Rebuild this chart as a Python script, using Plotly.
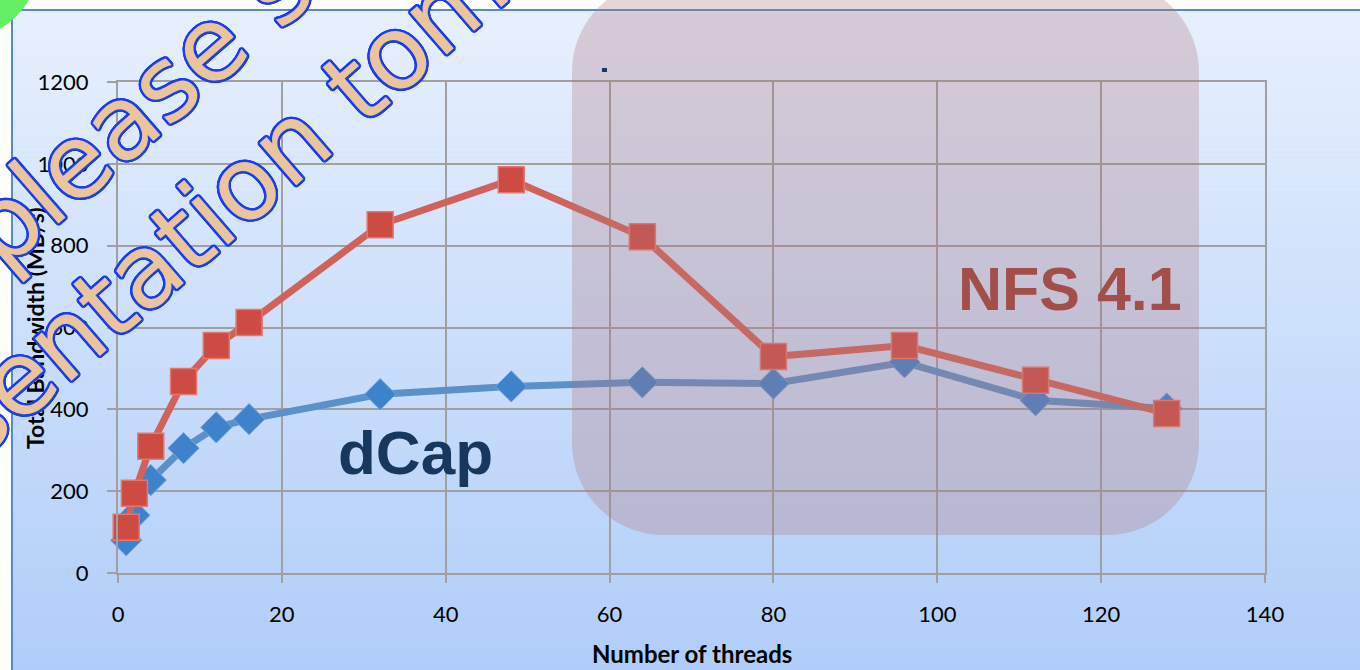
import math
import plotly.graph_objects as go

# ---------------- data ----------------
threads = [1, 2, 4, 8, 12, 16, 32, 48, 64, 80, 96, 112, 128]
dcap = [80, 141, 227, 305, 356, 376, 437, 456, 466, 463, 515, 422, 402]
nfs = [112, 195, 310, 468, 556, 612, 851, 961, 822, 529, 556, 471, 390]
x_ticks = [0, 20, 40, 60, 80, 100, 120, 140]
y_ticks = [0, 200, 400, 600, 800, 1000, 1200]

W, H = 1360, 670
L, R, T, B = 118, 1265, 82, 573
PW, PH = R - L, B - T


def px(x):
    return (x - L) / PW


def py(y):
    return (B - y) / PH


fig = go.Figure()

fig.add_trace(go.Scatter(
    x=threads, y=dcap, mode="lines+markers", name="dCap",
    line=dict(color="#5B90C9", width=7),
    marker=dict(symbol="diamond", size=24, color="#3E82CC",
                line=dict(color="#6FA3DA", width=1)),
    cliponaxis=False,
))
fig.add_trace(go.Scatter(
    x=threads, y=nfs, mode="lines+markers", name="NFS 4.1",
    line=dict(color="#D0625A", width=7),
    marker=dict(symbol="square", size=26, color="#CD4B42",
                line=dict(color="#E2796F", width=1.5)),
    cliponaxis=False,
))

shapes = []
# slide gradient background
top_c = (231, 240, 253)
bot_c = (176, 205, 249)
y0, y1 = 9, 670
n = 132
for i in range(n):
    ya = y0 + (y1 - y0) * i / n
    yb = y0 + (y1 - y0) * (i + 1) / n
    t = (i + 0.5) / n
    c = tuple(round(top_c[k] + (bot_c[k] - top_c[k]) * t) for k in range(3))
    shapes.append(dict(type="rect", xref="paper", yref="paper", layer="below",
                       x0=px(12), x1=px(1362), y0=py(ya), y1=py(yb + 0.6),
                       line=dict(width=0), fillcolor="rgb(%d,%d,%d)" % c))
# slide border
shapes.append(dict(type="line", xref="paper", yref="paper", layer="below",
                   x0=px(12), x1=px(1362), y0=py(10), y1=py(10),
                   line=dict(color="#5A8AC6", width=2)))
shapes.append(dict(type="line", xref="paper", yref="paper", layer="below",
                   x0=px(12), x1=px(12), y0=py(9), y1=py(672),
                   line=dict(color="#5A8AC6", width=2)))
# green circle corner
shapes.append(dict(type="circle", xref="paper", yref="paper", layer="below",
                   x0=px(-122), x1=px(40), y0=py(-122), y1=py(40),
                   line=dict(width=0), fillcolor="#62F062"))

# pink rounded rectangle overlay
lx, rx, ty, by, r = 572, 1199, -20, 535, 92
k = 0.5523 * r


def P(x, y):
    return "%.5f,%.5f" % (px(x), py(y))


path = ("M " + P(lx + r, ty) +
        " L " + P(rx - r, ty) +
        " C " + P(rx - r + k, ty) + " " + P(rx, ty + r - k) + " " + P(rx, ty + r) +
        " L " + P(rx, by - r) +
        " C " + P(rx, by - r + k) + " " + P(rx - r + k, by) + " " + P(rx - r, by) +
        " L " + P(lx + r, by) +
        " C " + P(lx + r - k, by) + " " + P(lx, by - r + k) + " " + P(lx, by - r) +
        " L " + P(lx, ty + r) +
        " C " + P(lx, ty + r - k) + " " + P(lx + r - k, ty) + " " + P(lx + r, ty) + " Z")
shapes.append(dict(type="path", xref="paper", yref="paper", layer="above",
                   path=path, line=dict(width=0),
                   fillcolor="rgba(176,118,125,0.30)"))
# tiny navy mark
shapes.append(dict(type="rect", xref="paper", yref="paper", layer="above",
                   x0=px(602), x1=px(607), y0=py(72), y1=py(68),
                   line=dict(width=0), fillcolor="#17375E"))

# outline shadow for watermark
blue = "#1A3EF0"
offs = []
for a in range(0, 360, 20):
    dx = 2.4 * math.cos(math.radians(a))
    dy = 2.4 * math.sin(math.radians(a))
    offs.append("%.1fpx %.1fpx 0 %s" % (dx, dy, blue))
shadow = ", ".join(offs)
wm_font = dict(family="DejaVu Sans", size=102, color="#EAC59B", shadow=shadow)

annotations = [
    dict(text="dCap", xref="paper", yref="paper", x=px(415), y=py(452),
         showarrow=False, xanchor="center", yanchor="middle",
         font=dict(family="Liberation Sans", size=62, color="#17375E", weight="bold")),
    dict(text="NFS 4.1", xref="paper", yref="paper", x=px(1070), y=py(289),
         showarrow=False, xanchor="center", yanchor="middle",
         font=dict(family="Liberation Sans", size=61, color="#A24F4C", weight="bold")),
    dict(text="Number of threads", xref="paper", yref="paper", x=px(692), y=py(653),
         showarrow=False, xanchor="center", yanchor="middle",
         font=dict(family="Lato", size=24, color="black", weight="bold")),
    dict(text="Total Bandwidth (MB/s)", xref="paper", yref="paper", x=px(35), y=py(328),
         showarrow=False, xanchor="center", yanchor="middle", textangle=-90,
         font=dict(family="Lato", size=23, color="black", weight="bold")),
    dict(text="please s", xref="paper", yref="paper", x=px(138), y=py(108),
         showarrow=False, xanchor="center", yanchor="middle", textangle=-41,
         font=wm_font),
    dict(text="sentation tom", xref="paper", yref="paper", x=px(222), y=py(202),
         showarrow=False, xanchor="center", yanchor="middle", textangle=-41,
         font=wm_font),
]

fig.update_layout(
    width=W, height=H, autosize=False,
    margin=dict(l=L, r=W - R, t=T, b=H - B, pad=0),
    paper_bgcolor="white", plot_bgcolor="rgba(0,0,0,0)",
    showlegend=False,
    shapes=shapes, annotations=annotations,
    font=dict(family="Lato", size=22, color="black"),
)
fig.update_xaxes(range=[0, 140], tickvals=x_ticks, ticktext=[str(v) for v in x_ticks],
                 showgrid=True, gridcolor="#A0A0A0", gridwidth=2,
                 showline=True, linecolor="#A0A0A0", linewidth=2, mirror=True,
                 zeroline=False, ticks="outside", ticklen=8, tickwidth=2,
                 tickcolor="#A0A0A0", ticklabelstandoff=13,
                 tickfont=dict(family="Lato", size=22, color="black"))
fig.update_yaxes(range=[0, 1200], tickvals=y_ticks, ticktext=[str(v) for v in y_ticks],
                 showgrid=True, gridcolor="#A0A0A0", gridwidth=2,
                 showline=True, linecolor="#A0A0A0", linewidth=2, mirror=True,
                 zeroline=False, ticks="outside", ticklen=9, tickwidth=2,
                 tickcolor="#A0A0A0", ticklabelstandoff=14,
                 tickfont=dict(family="Lato", size=22, color="black"))

fig.write_html("out.html")
